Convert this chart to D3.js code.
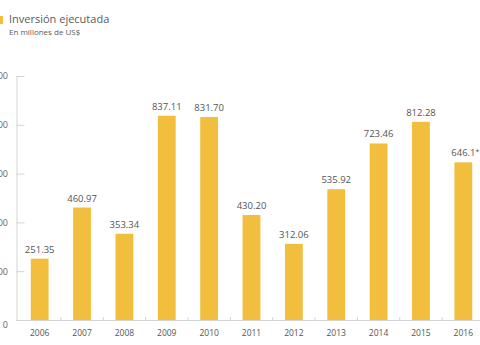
<!DOCTYPE html>
<html>
<head>
<meta charset="utf-8">
<script src="https://cdn.jsdelivr.net/npm/d3@7"></script>
<style>
  html, body { margin: 0; padding: 0; background: #fff; }
  svg { display: block; font-family: "Open Sans", sans-serif; }
</style>
</head>
<body>
<svg id="chart" width="480" height="345"></svg>
<script>
const years = ["2006","2007","2008","2009","2010","2011","2012","2013","2014","2015","2016"];
const values = [251.35, 460.97, 353.34, 837.11, 831.70, 430.20, 312.06, 535.92, 723.46, 812.28, 646.1];
const valueLabels = ["251.35","460.97","353.34","837.11","831.70","430.20","312.06","535.92","723.46","812.28","646.1"];
const valueNotes = ["","","","","","","","","","","*"];
const yTicks = [0, 200, 400, 600, 800, 1000];
const title = "Inversión ejecutada";
const subtitle = "En millones de US$";

const svg = d3.select("#chart");
const axisX = 16.5, baseY = 320, topY = 76;

const x = d3.scaleBand().domain(years).range([18.5, 484.5]).paddingInner(0.58).paddingOuter(0.29);
const y = d3.scaleLinear().domain([0, 1000]).range([baseY, topY]);

// Title block
svg.append("rect").attr("x", 0).attr("y", 16).attr("width", 3).attr("height", 8).attr("fill", "#F1BE3E");
svg.append("text").attr("x", 9).attr("y", 23).attr("font-size", 11).attr("fill", "#5a5a5a").text(title);
svg.append("text").attr("x", 9).attr("y", 35).attr("font-size", 8).attr("fill", "#5a5a5a").text(subtitle);

// Y axis
const yAxis = d3.axisLeft(y).tickValues(yTicks).tickSize(-8).tickSizeOuter(0).tickPadding(8.5).tickFormat(d3.format("d"));
const gy = svg.append("g").attr("transform", `translate(${axisX},0)`).call(yAxis);
gy.select(".domain").attr("stroke", "#d4d4d4");
gy.selectAll(".tick line").attr("stroke", "#d4d4d4");
gy.selectAll(".tick text").attr("fill", "#666").attr("font-size", 9).attr("font-family", "Open Sans, sans-serif")
  .attr("dy", d => d === 0 ? "0.85em" : "0.32em");

// X baseline
svg.append("line").attr("x1", axisX).attr("x2", 480).attr("y1", baseY + 0.5).attr("y2", baseY + 0.5).attr("stroke", "#d4d4d4");

// Separator ticks between bars
const step = x.step();
svg.selectAll(".sep").data(years.slice(1)).enter().append("line")
  .attr("x1", d => x(d) - (step - x.bandwidth()) / 2)
  .attr("x2", d => x(d) - (step - x.bandwidth()) / 2)
  .attr("y1", baseY - 3).attr("y2", baseY)
  .attr("stroke", "#d4d4d4");

// Bars
svg.selectAll(".bar").data(values).enter().append("rect")
  .attr("x", (d, i) => x(years[i]))
  .attr("y", d => y(d))
  .attr("width", x.bandwidth())
  .attr("height", d => baseY - y(d))
  .attr("fill", "#F1BE3E");

// Value labels
const vl = svg.selectAll(".vl").data(values).enter().append("text")
  .attr("x", (d, i) => x(years[i]) + x.bandwidth() / 2 + (valueNotes[i] ? 2 : 0))
  .attr("y", d => y(d) - 6)
  .attr("text-anchor", "middle")
  .attr("font-size", 9.5)
  .attr("fill", "#555");
vl.append("tspan").text((d, i) => valueLabels[i]);
vl.append("tspan").attr("font-size", 7).attr("dy", "-0.35em").text((d, i) => valueNotes[i]);

// X labels
svg.selectAll(".xl").data(years).enter().append("text")
  .attr("x", d => x(d) + x.bandwidth() / 2)
  .attr("y", 336)
  .attr("text-anchor", "middle")
  .attr("font-size", 8.5)
  .attr("fill", "#555")
  .text(d => d);
</script>
</body>
</html>
